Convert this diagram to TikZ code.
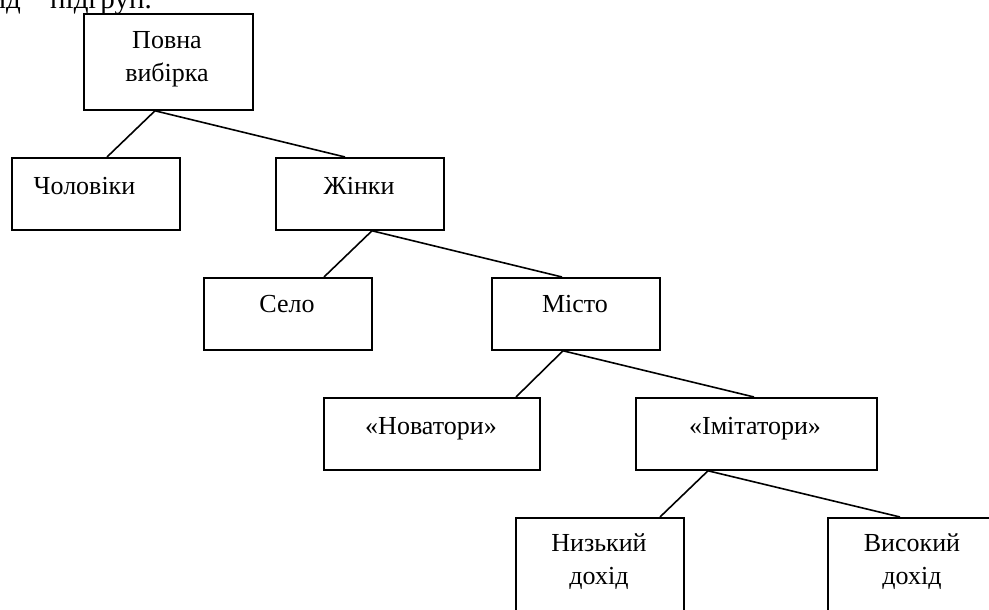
\documentclass[tikz,border=0pt]{standalone}
\usepackage{fontspec}
\setmainfont{Liberation Serif}
\begin{document}
\begin{tikzpicture}[x=1pt,y=1pt,
  box/.style={draw, line width=1.8pt, rectangle, inner sep=0pt, anchor=north west},
  lbl/.style={font=\fontsize{26}{33.5}\selectfont, inner sep=0pt, anchor=base, align=center},
  body/.style={font=\fontsize{29}{34}\selectfont, inner sep=0pt},
  link/.style={line width=1.6pt}]
\useasboundingbox (0,0) rectangle (989,610);
\clip (0,0) rectangle (989,610);

% end of the preceding paragraph
\node[body, anchor=base east] (prevA) at (21,601) {вид};
\node[body, anchor=base west] (prevB) at (50,601) {підгруп.};

% boxes of the segmentation tree
\node[box, minimum width=169pt, minimum height=96pt] (root) at (83,597) {};
\node[box, minimum width=168pt, minimum height=72pt] (men)   at (11,453) {};
\node[box, minimum width=168pt, minimum height=72pt] (women) at (275,453) {};
\node[box, minimum width=168pt, minimum height=72pt] (selo)  at (203,333) {};
\node[box, minimum width=168pt, minimum height=72pt] (misto) at (491,333) {};
\node[box, minimum width=216pt, minimum height=72pt] (nov)   at (323,213) {};
\node[box, minimum width=241pt, minimum height=72pt] (imit)  at (635,213) {};
\node[box, minimum width=168pt, minimum height=120pt] (nyz)  at (515,93) {};
\node[box, minimum width=168pt, minimum height=120pt] (vys)  at (827,93) {};

% labels (a two-line label sits on the baseline of its last line)
\node[lbl] (rootT)  at (167,528) {Повна\\вибірка};
\node[lbl] (menT)   at (84.5,415) {Чоловіки};
\node[lbl] (womenT) at (359,415) {Жінки};
\node[lbl] (seloT)  at (287,297) {Село};
\node[lbl] (mistoT) at (575,297) {Місто};
\node[lbl] (novT)   at (431,175) {«Новатори»};
\node[lbl] (imitT)  at (755,175) {«Імітатори»};
\node[lbl] (nyzT)   at (599,25) {Низький\\дохід};
\node[lbl] (vysT)   at (912,25) {Високий\\дохід};

% branches
\draw[link] ([xshift=72pt]root.south west) -- ([xshift=96pt]men.north west);
\draw[link] ([xshift=72pt]root.south west) -- ([xshift=70pt]women.north west);
\draw[link] ([xshift=97pt]women.south west) -- ([xshift=121pt]selo.north west);
\draw[link] ([xshift=97pt]women.south west) -- ([xshift=71pt]misto.north west);
\draw[link] ([xshift=72pt]misto.south west) -- ([xshift=193pt]nov.north west);
\draw[link] ([xshift=72pt]misto.south west) -- ([xshift=119pt]imit.north west);
\draw[link] ([xshift=73pt]imit.south west) -- ([xshift=145pt]nyz.north west);
\draw[link] ([xshift=73pt]imit.south west) -- ([xshift=73pt]vys.north west);
\end{tikzpicture}
\end{document}
